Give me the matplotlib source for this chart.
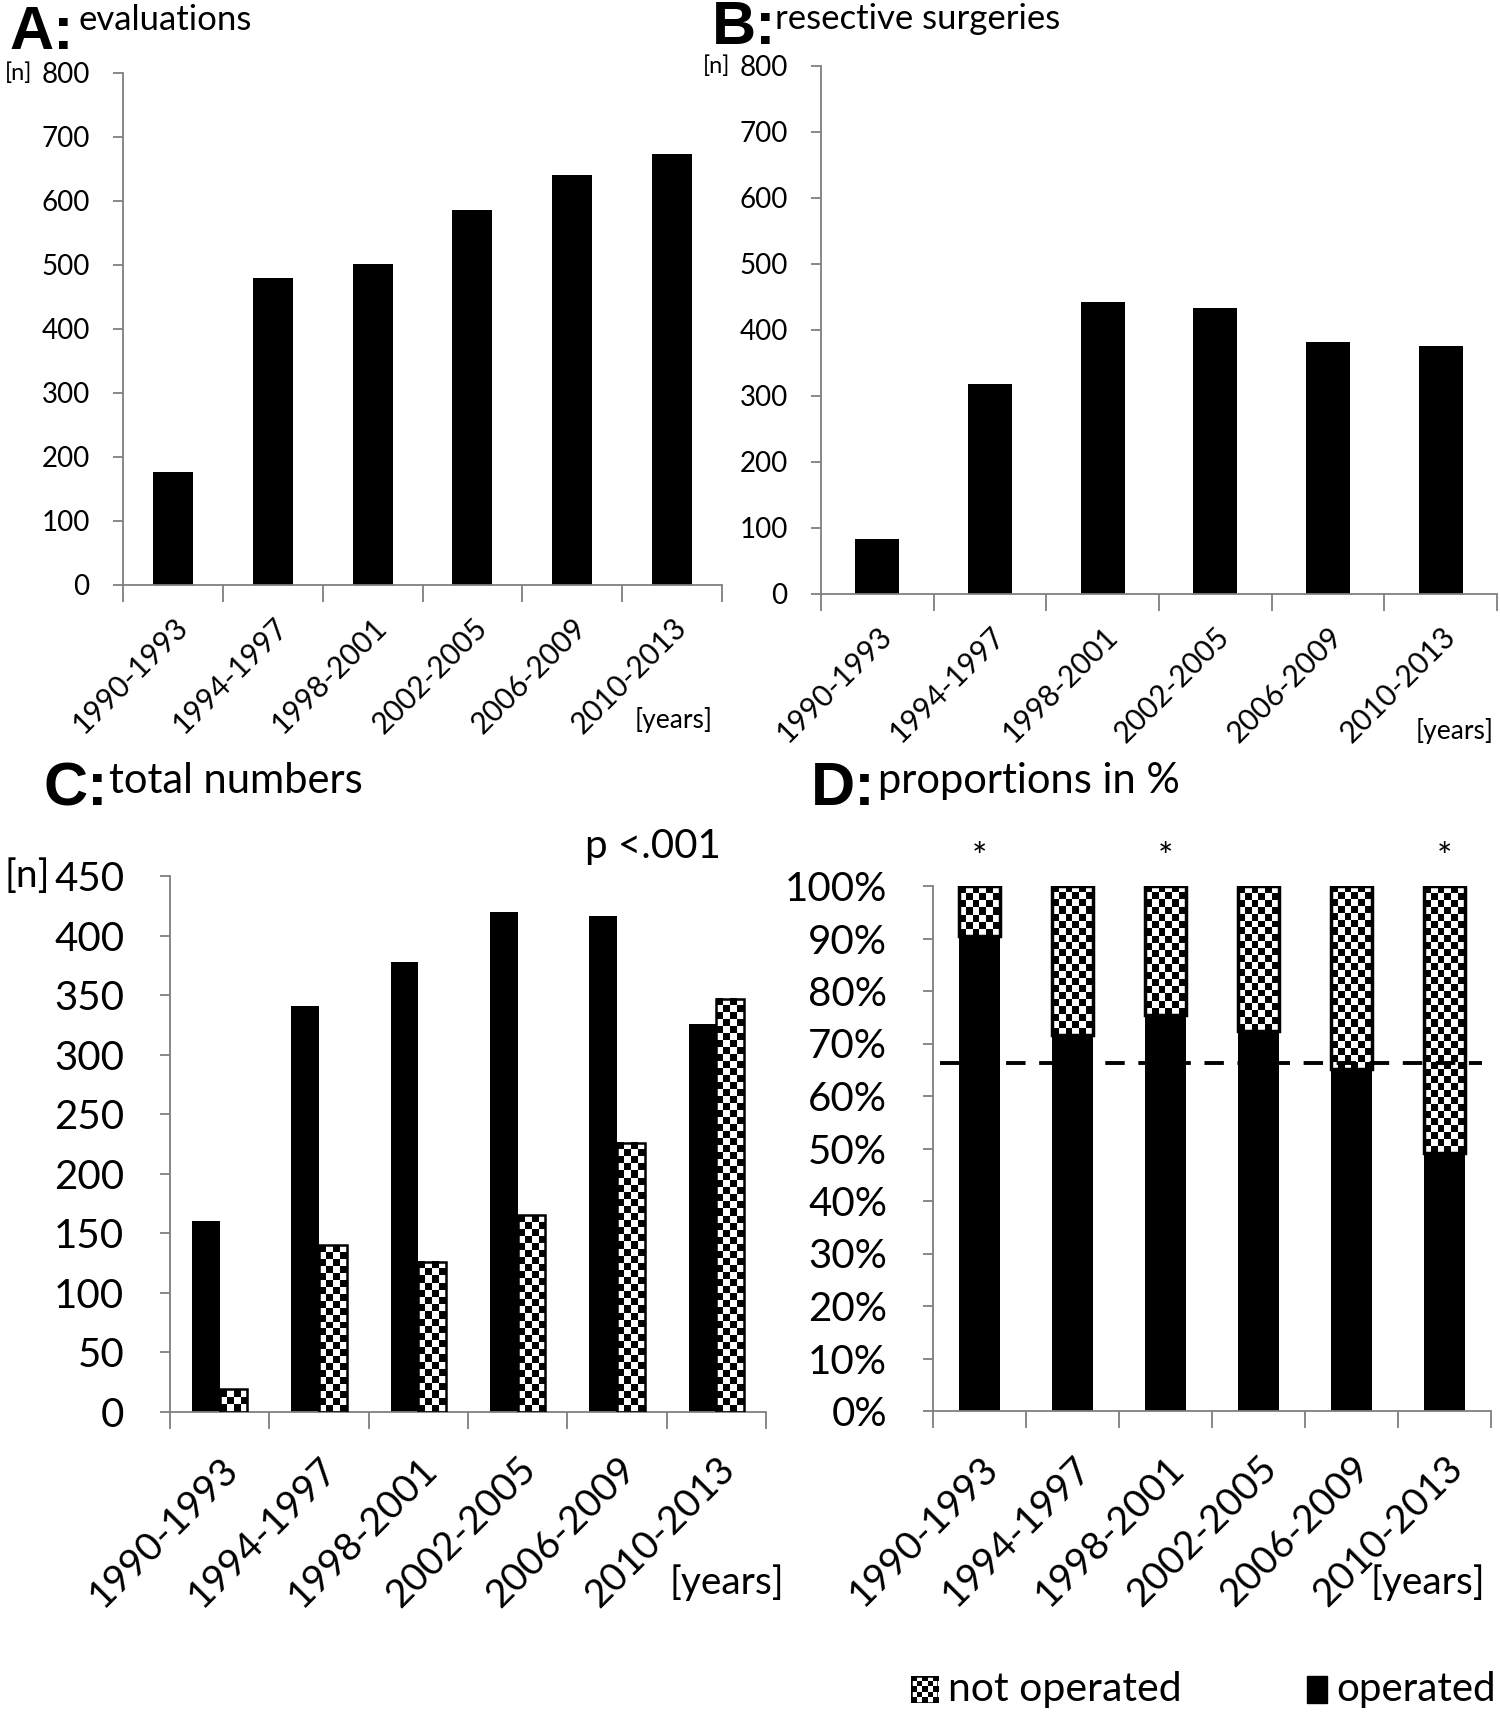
# %% imports
import numpy as np
import matplotlib
matplotlib.use('Agg')
import matplotlib.pyplot as plt
from matplotlib.patches import Rectangle
from matplotlib.ticker import FixedLocator

plt.rcParams['font.family'] = ['Lato', 'DejaVu Sans']

# %% data
periods = ['1990-1993', '1994-1997', '1998-2001', '2002-2005', '2006-2009', '2010-2013']
evaluations = [177, 480, 502, 586, 640, 673]
surgeries = [84, 318, 443, 434, 382, 376]
c_operated = [160, 341, 378, 420, 416, 326]
c_not_operated = [19, 140, 126, 165, 226, 347]
d_operated_pct = [90.5, 71.6, 75.4, 72.4, 65.1, 49.2]
d_reference_pct = 66.2
starred = [0, 2, 5]

W, H = 1500, 1716
fig = plt.figure(figsize=(W / 100, H / 100), dpi=100)
GREY = '#7f7f7f'


def px_axes(l, t, r, b):
    ax = fig.add_axes([l / W, 1 - b / H, (r - l) / W, (b - t) / H])
    ax.set_facecolor('none')
    return ax


def style_axes(ax, ylim, yticks, ysize, xsize, ypad, xpad, ylabels=None):
    n = len(periods)
    ax.set_xlim(-0.5, n - 0.5)
    ax.set_ylim(*ylim)
    for s in ['top', 'right']:
        ax.spines[s].set_visible(False)
    for s in ['left', 'bottom']:
        ax.spines[s].set_color(GREY)
        ax.spines[s].set_linewidth(1.3)
    ax.set_yticks(yticks)
    if ylabels is not None:
        ax.set_yticklabels(ylabels)
    ax.tick_params(axis='y', length=7, width=1.3, color=GREY, labelsize=ysize, pad=ypad)
    ax.set_xticks(range(n))
    ax.set_xticklabels(periods, rotation=45, ha='right', rotation_mode='anchor', fontsize=xsize)
    ax.tick_params(axis='x', which='major', length=0, pad=xpad)
    ax.xaxis.set_minor_locator(FixedLocator(np.arange(-0.5, n, 1.0)))
    ax.tick_params(axis='x', which='minor', length=12, width=1.3, color=GREY)


def checker(ax, rect, cell_px, lw=1.8):
    x0, y0 = rect.get_x(), rect.get_y()
    x1, y1 = x0 + rect.get_width(), y0 + rect.get_height()
    p0 = ax.transData.transform((x0, y0))
    p1 = ax.transData.transform((x1, y1))
    nx = max(1, int(round(abs(p1[0] - p0[0]) / cell_px)))
    ny = max(1, int(round(abs(p1[1] - p0[1]) / cell_px)))
    arr = np.add.outer(np.arange(ny), np.arange(nx)) % 2
    ax.imshow(arr, cmap='gray', vmin=0, vmax=1, extent=(x0, x1, y0, y1),
              aspect='auto', interpolation='nearest', zorder=2)
    ax.add_patch(Rectangle((x0, y0), x1 - x0, y1 - y0, fill=False,
                           edgecolor='black', linewidth=lw, zorder=3))


x = np.arange(len(periods))

# %% A: evaluations
axA = px_axes(123, 73, 722, 585)
axA.bar(x, evaluations, width=0.4, color='black', zorder=2)
style_axes(axA, (0, 800), range(0, 801, 100), 20, 21.5, ypad=17, xpad=20)
fig.text(79 / W, 1 - 30 / H, 'evaluations', fontsize=25)
fig.text(9 / W, 1 - 49 / H, 'A:', fontsize=44, fontweight='bold', family='Liberation Sans')
fig.text(5 / W, 1 - 73 / H, '[n]', fontsize=17, va='center')
fig.text(713 / W, 1 - 720 / H, '[years]', fontsize=19, va='center', ha='right')

# %% B: resective surgeries
axB = px_axes(821, 66, 1497, 594)
axB.bar(x, surgeries, width=0.39, color='black', zorder=2)
style_axes(axB, (0, 800), range(0, 801, 100), 20, 21.5, ypad=17, xpad=20)
fig.text(775 / W, 1 - 29 / H, 'resective surgeries', fontsize=25)
fig.text(712 / W, 1 - 44 / H, 'B:', fontsize=44, fontweight='bold', family='Liberation Sans')
fig.text(703 / W, 1 - 66 / H, '[n]', fontsize=17, va='center')
fig.text(1494 / W, 1 - 731 / H, '[years]', fontsize=19, va='center', ha='right')

# %% C: total numbers
axC = px_axes(170, 876, 766, 1412)
style_axes(axC, (0, 450), range(0, 451, 50), 29, 28, ypad=26, xpad=28)
w = 0.28
axC.bar(x - w / 2, c_operated, width=w, color='black', zorder=2)
not_op_bars = axC.bar(x + w / 2, c_not_operated, width=w, color='none', zorder=2)
for rect in not_op_bars:
    checker(axC, rect, 7.0)
axC.set_xlim(-0.5, len(periods) - 0.5)
axC.set_ylim(0, 450)
axC.text(0.81, 1.055, 'p <.001', transform=axC.transAxes, fontsize=29, ha='center', va='center')
fig.text(109 / W, 1 - 793 / H, 'total numbers', fontsize=30)
fig.text(43 / W, 1 - 805 / H, 'C:', fontsize=44, fontweight='bold', family='Liberation Sans')
fig.text(5 / W, 1 - 876 / H, '[n]', fontsize=28, va='center')
fig.text(784 / W, 1 - 1583 / H, '[years]', fontsize=28, va='center', ha='right')

# %% D: proportions in %
axD = px_axes(933, 886, 1491, 1411)
style_axes(axD, (0, 100), range(0, 101, 10), 29, 28, ypad=26, xpad=28,
           ylabels=['%d%%' % v for v in range(0, 101, 10)])
d_not_operated_pct = [100 - v for v in d_operated_pct]
axD.bar(x, d_operated_pct, width=0.44, color='black', zorder=2)
stack_bars = axD.bar(x, d_not_operated_pct, bottom=d_operated_pct, width=0.44,
                     color='none', zorder=2)
for rect in stack_bars:
    checker(axD, rect, 7.0, lw=2.5)
axD.set_xlim(-0.5, len(periods) - 0.5)
axD.set_ylim(0, 100)
axD.plot([-0.42, 5.4], [d_reference_pct, d_reference_pct], color='black',
         linestyle=(0, (5, 3.5)), linewidth=2.8, zorder=4)
for i in starred:
    axD.text(i, 105.3, '*', fontsize=26, ha='center', va='center', clip_on=False)
fig.text(878 / W, 1 - 793 / H, 'proportions in %', fontsize=30)
fig.text(811 / W, 1 - 805 / H, 'D:', fontsize=44, fontweight='bold', family='Liberation Sans')
fig.text(1485 / W, 1 - 1583 / H, '[years]', fontsize=28, va='center', ha='right')

# %% legend
leg_ax = fig.add_axes([911 / W, 1 - 1703 / H, 27 / W, 27 / H])
leg_ax.set_xlim(0, 1)
leg_ax.set_ylim(0, 1)
leg_ax.axis('off')
checker(leg_ax, Rectangle((0, 0), 1, 1), 6.0)
leg_ax.set_xlim(0, 1)
leg_ax.set_ylim(0, 1)
fig.text(948 / W, 1 - 1690 / H, 'not operated', fontsize=29.5, va='center')
fig.add_artist(Rectangle((1307 / W, 1 - 1703 / H), 20 / W, 27 / H,
                         transform=fig.transFigure, color='black'))
fig.text(1336 / W, 1 - 1690 / H, 'operated', fontsize=29, va='center')

fig.savefig('out.png', dpi=100)
